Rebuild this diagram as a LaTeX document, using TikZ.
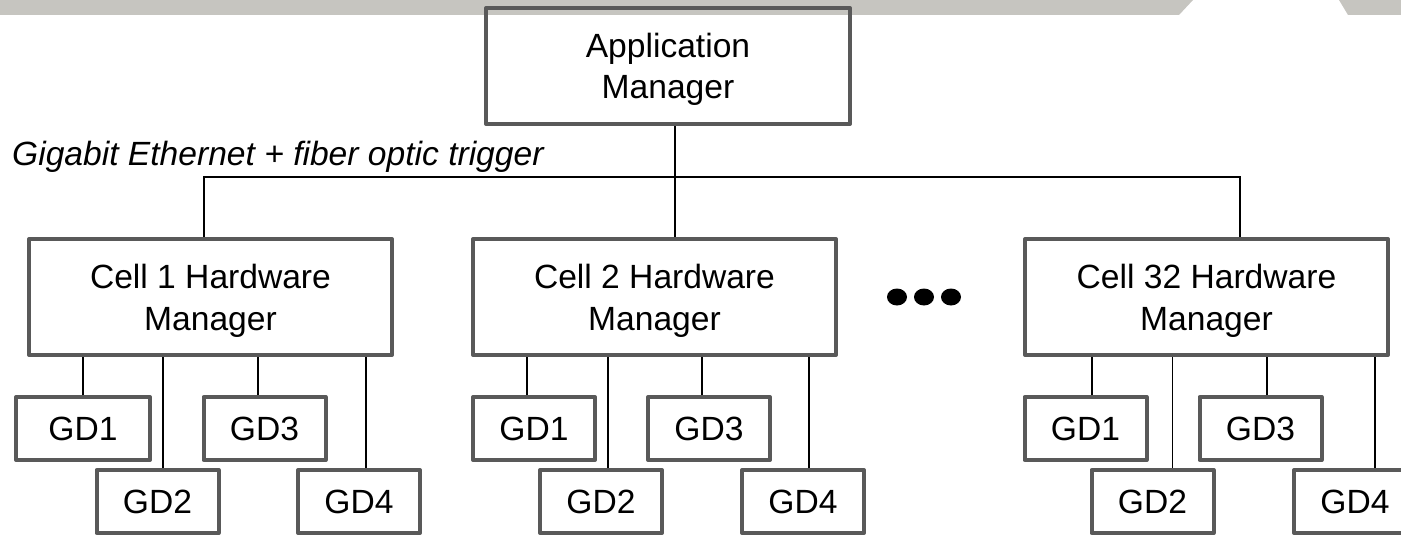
\documentclass[tikz,border=0pt]{standalone}
\usepackage{fontspec}
\setmainfont{Liberation Sans}
\usetikzlibrary{shapes.geometric}
\definecolor{boxgrey}{HTML}{595959}
\definecolor{bandgrey}{HTML}{C6C5C0}
\tikzstyle{link} = [line width=1.8pt]

\begin{document}
\begin{tikzpicture}[x=1pt, y=-1pt, font=\fontsize{33.6}{42}\selectfont,
  mgr/.style = {draw=boxgrey, line width=4pt, line join=round, align=center, text depth=0pt,
                minimum width=363pt, minimum height=116pt, inner sep=0pt},
  gd/.style = {draw=boxgrey, line width=4pt, line join=round,
               minimum width=122pt, minimum height=63pt, inner sep=0pt},
  dot/.style = {ellipse, fill, inner sep=0pt, minimum width=20pt, minimum height=17pt}]
\useasboundingbox (0,0) rectangle (1401,535);

% grey band on top
\fill[bandgrey] (0,0) -- (1193,0) -- (1179,15) -- (0,15) -- cycle;
\fill[bandgrey] (1339,0) -- (1401,0) -- (1401,15) -- (1348,15) -- cycle;

\node[mgr, minimum width=364pt, font=\fontsize{33.6}{41}\selectfont] (app) at (668,66) {Application\\Manager};
\node[anchor=base west, inner sep=0pt, font=\fontsize{33.6}{42}\selectfont\itshape] (bus) at (12,165) {Gigabit Ethernet + fiber optic trigger};

\node[mgr] (c1) at (210.5,297) {Cell 1 Hardware\\Manager};
\node[mgr] (c2) [right of=c1, node distance=444pt] {Cell 2 Hardware\\Manager};
\node[mgr] (c32) [right of=c2, node distance=552pt] {Cell 32 Hardware\\Manager};

\node[dot] (d2) at (924,297) {};
\node[dot] (d1) [left of=d2, node distance=27pt] {};
\node[dot] (d3) [right of=d2, node distance=27pt] {};

% ground detectors of cell 1
\node[gd, minimum width=134pt] (g11) [below of=c1, node distance=131.5pt, xshift=-127.5pt] {GD1};
\node[gd] (g12) [below of=c1, node distance=204.5pt, xshift=-53pt] {GD2};
\node[gd] (g13) [below of=c1, node distance=131.5pt, xshift=54pt] {GD3};
\node[gd] (g14) [below of=c1, node distance=204.5pt, xshift=148.5pt] {GD4};

% ground detectors of cell 2
\node[gd] (g21) [below of=c2, node distance=131.5pt, xshift=-120.5pt] {GD1};
\node[gd] (g22) [below of=c2, node distance=204.5pt, xshift=-53.5pt] {GD2};
\node[gd] (g23) [below of=c2, node distance=131.5pt, xshift=54.5pt] {GD3};
\node[gd] (g24) [below of=c2, node distance=204.5pt, xshift=148.5pt] {GD4};

% ground detectors of cell 32
\node[gd] (g321) [below of=c32, node distance=131.5pt, xshift=-121pt] {GD1};
\node[gd] (g322) [below of=c32, node distance=204.5pt, xshift=-54pt] {GD2};
\node[gd] (g323) [below of=c32, node distance=131.5pt, xshift=54pt] {GD3};
\node[gd] (g324) [below of=c32, node distance=204.5pt, xshift=148.5pt] {GD4};

% network
\coordinate (bl) at (204,177);
\coordinate (br) at (1240,177);
\draw[link] ([xshift=7pt]app.south) -- ([xshift=7pt]app.south |- c2.north);
\draw[link] (bl |- c1.north) -- (bl) -- (br) -- (br |- c32.north);

\draw[link] (g11.north) -- (g11.north |- c1.south);
\draw[link] ([xshift=5.5pt]g12.north) -- ([xshift=5.5pt]g12.north |- c1.south);
\draw[link] ([xshift=-6.5pt]g13.north) -- ([xshift=-6.5pt]g13.north |- c1.south);
\draw[link] ([xshift=7pt]g14.north) -- ([xshift=7pt]g14.north |- c1.south);

\draw[link] ([xshift=-7pt]g21.north) -- ([xshift=-7pt]g21.north |- c2.south);
\draw[link] ([xshift=7pt]g22.north) -- ([xshift=7pt]g22.north |- c2.south);
\draw[link] ([xshift=-7pt]g23.north) -- ([xshift=-7pt]g23.north |- c2.south);
\draw[link] ([xshift=6pt]g24.north) -- ([xshift=6pt]g24.north |- c2.south);

\draw[link] ([xshift=6.5pt]g321.north) -- ([xshift=6.5pt]g321.north |- c32.south);
\draw[link] ([xshift=20pt]g322.north) -- ([xshift=20pt]g322.north |- c32.south);
\draw[link] ([xshift=6.5pt]g323.north) -- ([xshift=6.5pt]g323.north |- c32.south);
\draw[link] ([xshift=20pt]g324.north) -- ([xshift=20pt]g324.north |- c32.south);
\end{tikzpicture}
\end{document}
